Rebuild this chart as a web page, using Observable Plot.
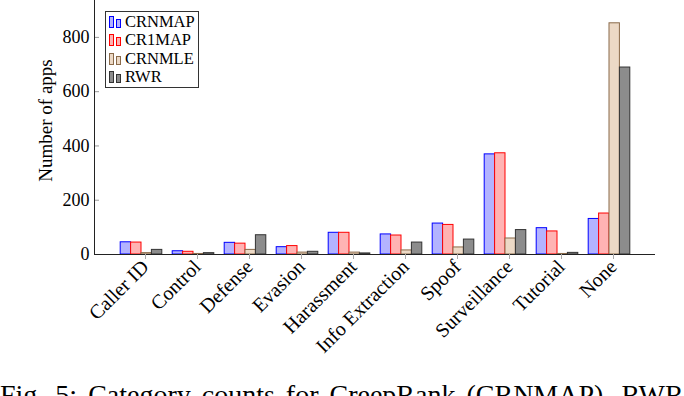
<!DOCTYPE html>
<html>
<head>
<meta charset="utf-8">
<script src="https://cdn.jsdelivr.net/npm/d3@7"></script>
<script src="https://cdn.jsdelivr.net/npm/@observablehq/plot@0.6"></script>
<style>
  html, body { margin: 0; padding: 0; background: #fff; overflow: hidden; }
  #wrap { position: relative; width: 684px; height: 396px; overflow: hidden; font-family: "Liberation Serif", "Times New Roman", serif; }
  #chart svg text { font-family: "Liberation Serif", "Times New Roman", serif; }
  #legend { position: absolute; left: 105px; top: 11px; width: 92px; height: 75px; border: 1px solid #333; background: #fff; box-sizing: content-box; }
  .row { position: absolute; left: 0; height: 18px; display: flex; align-items: center; font-size: 16.5px; line-height: 18px; color: #000; }
  .sw { position: relative; width: 16px; height: 14px; margin-left: 2px; margin-right: 1px; }
  .sw span { position: absolute; bottom: 1px; width: 5px; }
  #caption { font-size: 28px; line-height: 28px; white-space: nowrap; word-spacing: 4px; margin-top: 21px; margin-left: 0px; color: #000; }
</style>
</head>
<body>
<div id="wrap">
  <div id="chart"></div>
  <div id="legend"></div>
  <div id="caption"></div>
</div>
<script>
const categories = ["Caller ID", "Control", "Defense", "Evasion", "Harassment", "Info Extraction", "Spoof", "Surveillance", "Tutorial", "None"];
const seriesNames = ["CRNMAP", "CR1MAP", "CRNMLE", "RWR"];
const crnmap = [45, 12, 43, 27, 80, 74, 114, 369, 97, 131];
const cr1map = [44, 10, 40, 31, 80, 70, 109, 373, 85, 151];
const crnmle = [5, 2, 17, 7, 7, 15, 26, 59, 2, 852];
const rwr    = [17, 5, 71, 10, 4, 44, 55, 90, 6, 689];
const yTicks = [0, 200, 400, 600, 800];
const yLabel = "Number of apps";
const captionText = "Fig. 5: Category counts for CreepRank (CRNMAP), RWR";

const seriesValues = [crnmap, cr1map, crnmle, rwr];
const fills = ["#b3b3ff", "#ffb3b3", "#ecd9c6", "#8c8c8c"];
const strokes = ["#0000ff", "#ff0000", "#8a6a4a", "#333333"];

const width = 684, height = 360;
const marginLeft = 94, marginRight = 29, marginTop = 0, marginBottom = 106;
const paddingOuter = 0.394;
const plotW = width - marginLeft - marginRight;
const step = plotW / (categories.length + 2 * paddingOuter);
const barW = step * 0.2;
const groupPad = (step - barW * seriesNames.length) / 2;

const font = "Liberation Serif";

const marks = seriesNames.map((name, i) => {
  const rows = categories.map((c, j) => ({category: c, value: seriesValues[i][j]}));
  const left = groupPad + i * barW;
  return Plot.barY(rows, {
    x: "category", y: "value",
    fill: fills[i], stroke: strokes[i], strokeWidth: 1,
    insetLeft: left, insetRight: step - left - barW
  });
});

const chart = Plot.plot({
  width, height, marginLeft, marginRight, marginTop, marginBottom,
  style: {fontFamily: font, background: "#fff", color: "#000"},
  x: {type: "band", domain: categories, paddingInner: 0, paddingOuter: paddingOuter, align: 0.5},
  y: {domain: [0, 936]},
  marks: [
    ...marks,
    Plot.tickY(yTicks, {y: d => d, stroke: "#999", insetRight: plotW - 5}),
    Plot.ruleY([0], {stroke: "#222", strokeWidth: 1}),
    Plot.axisY({ticks: yTicks, tickSize: 0, tickPadding: 5, fontSize: 18, fontFamily: font, label: null, fill: "#000"}),
    Plot.text([yLabel], {text: d => d, frameAnchor: "left", textAnchor: "middle", lineAnchor: "middle", rotate: -90, dx: -49, dy: -7, fontSize: 19, fontFamily: font, fill: "#000"}),
    Plot.axisX({tickSize: 5, stroke: "#aaa", tickRotate: -45, tickPadding: 4, fontSize: 20, fontFamily: font, fill: "#000", label: null, dx: 4}),
    Plot.frame({anchor: "left", stroke: "#222"})
  ]
});
document.getElementById("chart").appendChild(chart);

const legend = document.getElementById("legend");
seriesNames.forEach((name, i) => {
  const row = document.createElement("div");
  row.className = "row";
  row.style.top = (1 + i * 18.3) + "px";
  const sw = document.createElement("div");
  sw.className = "sw";
  const b1 = document.createElement("span");
  b1.style.left = "1px"; b1.style.height = "12px";
  const b2 = document.createElement("span");
  b2.style.left = "8px"; b2.style.height = "9px";
  [b1, b2].forEach(b => { b.style.background = fills[i]; b.style.border = "1px solid " + strokes[i]; b.style.boxSizing = "border-box"; });
  sw.appendChild(b1); sw.appendChild(b2);
  const t = document.createElement("span");
  t.textContent = name;
  row.appendChild(sw); row.appendChild(t);
  legend.appendChild(row);
});
document.getElementById("caption").textContent = captionText;
</script>
</body>
</html>
